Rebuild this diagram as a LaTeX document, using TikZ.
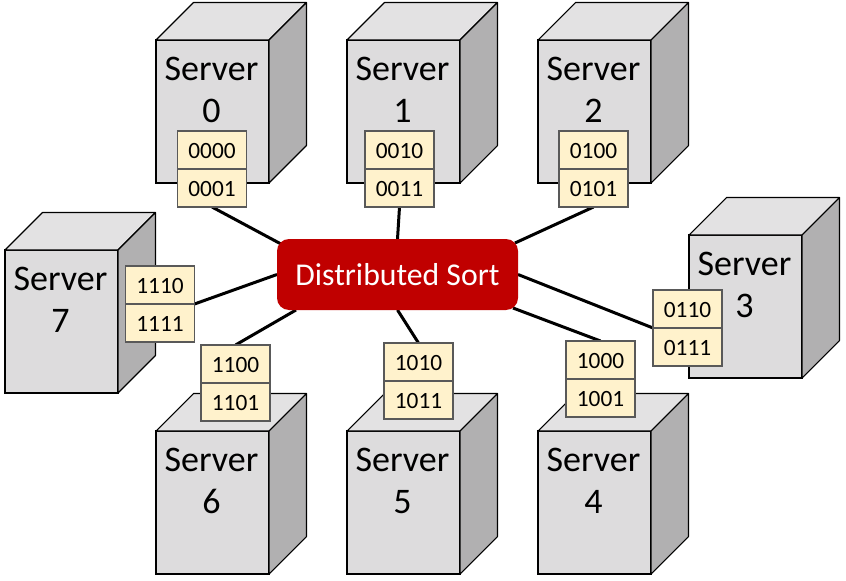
\documentclass[tikz,border=0pt]{standalone}
\usepackage{fontspec}
\setmainfont{Carlito}
\usetikzlibrary{positioning,backgrounds}
\definecolor{facegray}{HTML}{DDDCDD}
\definecolor{topgray}{HTML}{E3E2E3}
\definecolor{sidegray}{HTML}{B1B0B1}
\definecolor{cellfill}{HTML}{FFF2CC}
\definecolor{celledge}{HTML}{595959}
\definecolor{hubred}{HTML}{C00000}
\tikzset{
  srvface/.style={draw=black,fill=facegray,line width=.8pt,minimum width=84.75pt,minimum height=107.25pt,inner sep=0pt,outer sep=0pt,anchor=north west},
  srvedge/.style={draw=black,line width=.8pt,line join=round},
  srvtext/.style={anchor=north,align=center,inner sep=0pt,font=\fontsize{27}{31.5}\selectfont},
  cellbox/.style={draw=celledge,fill=cellfill,line width=.8pt,minimum width=51.75pt,minimum height=28.5pt,inner sep=0pt,outer sep=0pt,text height=13pt,text depth=0pt,font=\fontsize{17.5}{20}\selectfont},
  hubbox/.style={fill=hubred,text=white,rounded corners=9pt,minimum width=180.75pt,minimum height=53.25pt,inner sep=0pt,outer sep=0pt,font=\fontsize{23.8}{28}\selectfont},
  wire/.style={line width=2.25pt}
}
\begin{document}
\begin{tikzpicture}[x=.75pt,y=-.75pt]
\useasboundingbox (0,0) rectangle (846,581);
\foreach \n/\x/\y in {0/156/40,1/347/40,2/538/40,3/689/235,4/538/431,5/347/431,6/156/431,7/5/250} {
\node[srvface] (s\n) at (\x,\y) {};
\draw[srvedge,fill=topgray] (s\n.north west) -- ++(37.5,-37.5) -- ++(113,0) -- (s\n.north east) -- cycle;
\draw[srvedge,fill=sidegray] (s\n.north east) -- ++(37.5,-37.5) -- ++(0,143) -- (s\n.south east) -- cycle;
\node[srvtext] (t\n) at ([xshift=-.75pt,yshift=-12.75pt]s\n.north) {Server\\\n};
}
\foreach \n/\x/\y/\upper/\lower in {0/212/131/0000/0001,1/399.5/131/0010/0011,2/593.5/131/0100/0101,3/687.5/290/0110/0111,4/600.5/341/1000/1001,5/418.5/343/1010/1011,6/235.5/345/1100/1101,7/160/266/1110/1111} {
\node[cellbox,anchor=north] (c\n a) at (\x,\y) {\upper};
\node[cellbox,below=0pt of c\n a] (c\n b) {\lower};
}
\node[hubbox] (hub) at (397.5,274.5) {Distributed Sort};
\begin{scope}[on background layer]
\draw[wire] (c0b.south) -- ([shift={(4,5)}]hub.north west);
\draw[wire] (c1b.south) -- (hub.north);
\draw[wire] (c2b.south) -- ([shift={(-3,4)}]hub.north east);
\draw[wire] (c3b.north west) -- (hub.east);
\draw[wire] (c4a.north) -- ([shift={(-5,-2)}]hub.south east);
\draw[wire] (c5a.north) -- (hub.south);
\draw[wire] (c6a.north) -- ([shift={(19,0)}]hub.south west);
\draw[wire] (c7b.north east) -- (hub.west);
\end{scope}
\end{tikzpicture}
\end{document}
